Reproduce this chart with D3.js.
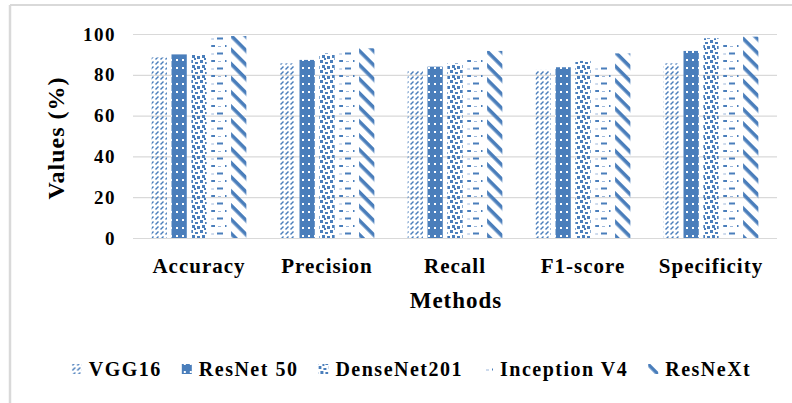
<!DOCTYPE html>
<html><head><meta charset="utf-8">
<script src="https://cdn.jsdelivr.net/npm/d3@7"></script>
<style>
html,body{margin:0;padding:0;background:#fff;}
text{font-family:"Times New Roman","Liberation Serif",Tinos,serif;font-weight:700;fill:#000;}
</style></head>
<body>
<svg id="c" width="792" height="403"></svg>
<script>
const categories = ["Accuracy","Precision","Recall","F1-score","Specificity"];
const seriesNames = ["VGG16","ResNet 50","DenseNet201","Inception V4","ResNeXt"];
const vgg16      = [88.5, 85.6, 82.0, 82.4, 85.6];
const resnet50   = [90.0, 87.3, 84.0, 83.7, 91.7];
const densenet201= [89.8, 90.5, 85.6, 86.8, 97.9];
const inceptionV4= [99.5, 91.8, 88.0, 85.0, 96.2];
const resnext    = [99.0, 93.0, 91.7, 90.5, 98.7];
const yTicks = [0,20,40,60,80,100];
const seriesValues = [vgg16, resnet50, densenet201, inceptionV4, resnext];

const blue = "#4a7ebb";
const svg = d3.select("#c");
const defs = svg.append("defs");

let p = defs.append("pattern").attr("id","p0").attr("patternUnits","userSpaceOnUse").attr("width",5).attr("height",5);
p.append("path").attr("d","M0.5,4.5 L3.5,1.5").attr("stroke",blue).attr("stroke-width",1.4).attr("fill","none");
p = defs.append("pattern").attr("id","p1").attr("patternUnits","userSpaceOnUse").attr("width",6).attr("height",8);
p.append("rect").attr("width",6).attr("height",8).attr("fill",blue);
p.append("rect").attr("x",2).attr("y",3).attr("width",2).attr("height",2).attr("fill","#fff");
p = defs.append("pattern").attr("id","p2").attr("patternUnits","userSpaceOnUse").attr("width",10).attr("height",10);
[[0,0,3,3],[5,2,3,2],[2,5,3,3],[7,6,3,3],[4,8,2,2]].forEach(r=>p.append("rect").attr("x",r[0]).attr("y",r[1]).attr("width",r[2]).attr("height",r[3]).attr("fill",blue));
p = defs.append("pattern").attr("id","p3").attr("patternUnits","userSpaceOnUse").attr("width",16).attr("height",15);
p.append("rect").attr("x",1).attr("y",0).attr("width",6).attr("height",2).attr("fill",blue);
p.append("rect").attr("x",9).attr("y",7.5).attr("width",6).attr("height",2).attr("fill",blue);
p.append("rect").attr("x",10).attr("y",1).attr("width",3).attr("height",1).attr("fill","#9db8dc");
p.append("rect").attr("x",3).attr("y",8.5).attr("width",3).attr("height",1).attr("fill","#9db8dc");
p = defs.append("pattern").attr("id","p4").attr("patternUnits","userSpaceOnUse").attr("width",10).attr("height",10).attr("patternTransform","rotate(45)");
p.append("rect").attr("x",0).attr("y",0).attr("width",10).attr("height",3.6).attr("fill",blue);

svg.append("line").attr("x1",10).attr("x2",10).attr("y1",5).attr("y2",403).attr("stroke","#d9d9d9").attr("stroke-width",2.5);
svg.append("line").attr("x1",10).attr("x2",792).attr("y1",5).attr("y2",5).attr("stroke","#d9d9d9").attr("stroke-width",2);

const x0 = d3.scaleBand().domain(categories).range([135,775]).paddingInner(0.26).paddingOuter(0.13);
const x1 = d3.scaleBand().domain(seriesNames).range([0,x0.bandwidth()]).paddingInner(0.23).paddingOuter(0);
const y = d3.scaleLinear().domain([0,100]).range([238,34]);

svg.append("g").selectAll("line").data(yTicks).join("line")
  .attr("x1",133).attr("x2",777).attr("y1",d=>y(d)+0.5).attr("y2",d=>y(d)+0.5)
  .attr("stroke","#d9d9d9").attr("stroke-width",1.2);

svg.append("g").selectAll("text").data(yTicks).join("text")
  .attr("x",116).attr("y",d=>y(d)+6.5).attr("text-anchor","end")
  .style("font-size","19px").style("letter-spacing","1.5px").text(d=>d);

const g = svg.append("g");
categories.forEach((c,ci)=>{
  seriesNames.forEach((s,si)=>{
    const v = seriesValues[si][ci];
    g.append("rect").attr("x",x0(c)+x1(s)).attr("y",y(v)).attr("width",x1.bandwidth()).attr("height",y(0)-y(v))
      .attr("fill",`url(#p${si})`);
  });
});

svg.append("g").selectAll("text").data(categories).join("text")
  .attr("x",d=>x0(d)+x0.bandwidth()/2).attr("y",273).attr("text-anchor","middle")
  .style("font-size","21px").style("letter-spacing","1px").text(d=>d);

svg.append("text").attr("x",456).attr("y",308).attr("text-anchor","middle")
  .style("font-size","23px").style("letter-spacing","1px").text("Methods");

svg.append("text").attr("transform","translate(64,138) rotate(-90)").attr("text-anchor","middle")
  .style("font-size","24px").style("letter-spacing","1px").text("Values (%)");

const leg = svg.append("g");
const items = [];
seriesNames.forEach((s,si)=>{
  const it = leg.append("g");
  it.append("rect").attr("x",0).attr("y",-12).attr("width",10).attr("height",10).attr("fill",`url(#p${si})`);
  const t = it.append("text").attr("x",17).attr("y",0).style("font-size","20px").style("letter-spacing","1.5px").text(s);
  const w = 17 + t.node().getComputedTextLength();
  items.push({it,w});
});
const gap = 20;
const total = d3.sum(items,d=>d.w) + gap*(items.length-1);
let cx = 411.5 - total/2;
items.forEach(d=>{ d.it.attr("transform",`translate(${cx},376)`); cx += d.w + gap; });
</script>
</body></html>
